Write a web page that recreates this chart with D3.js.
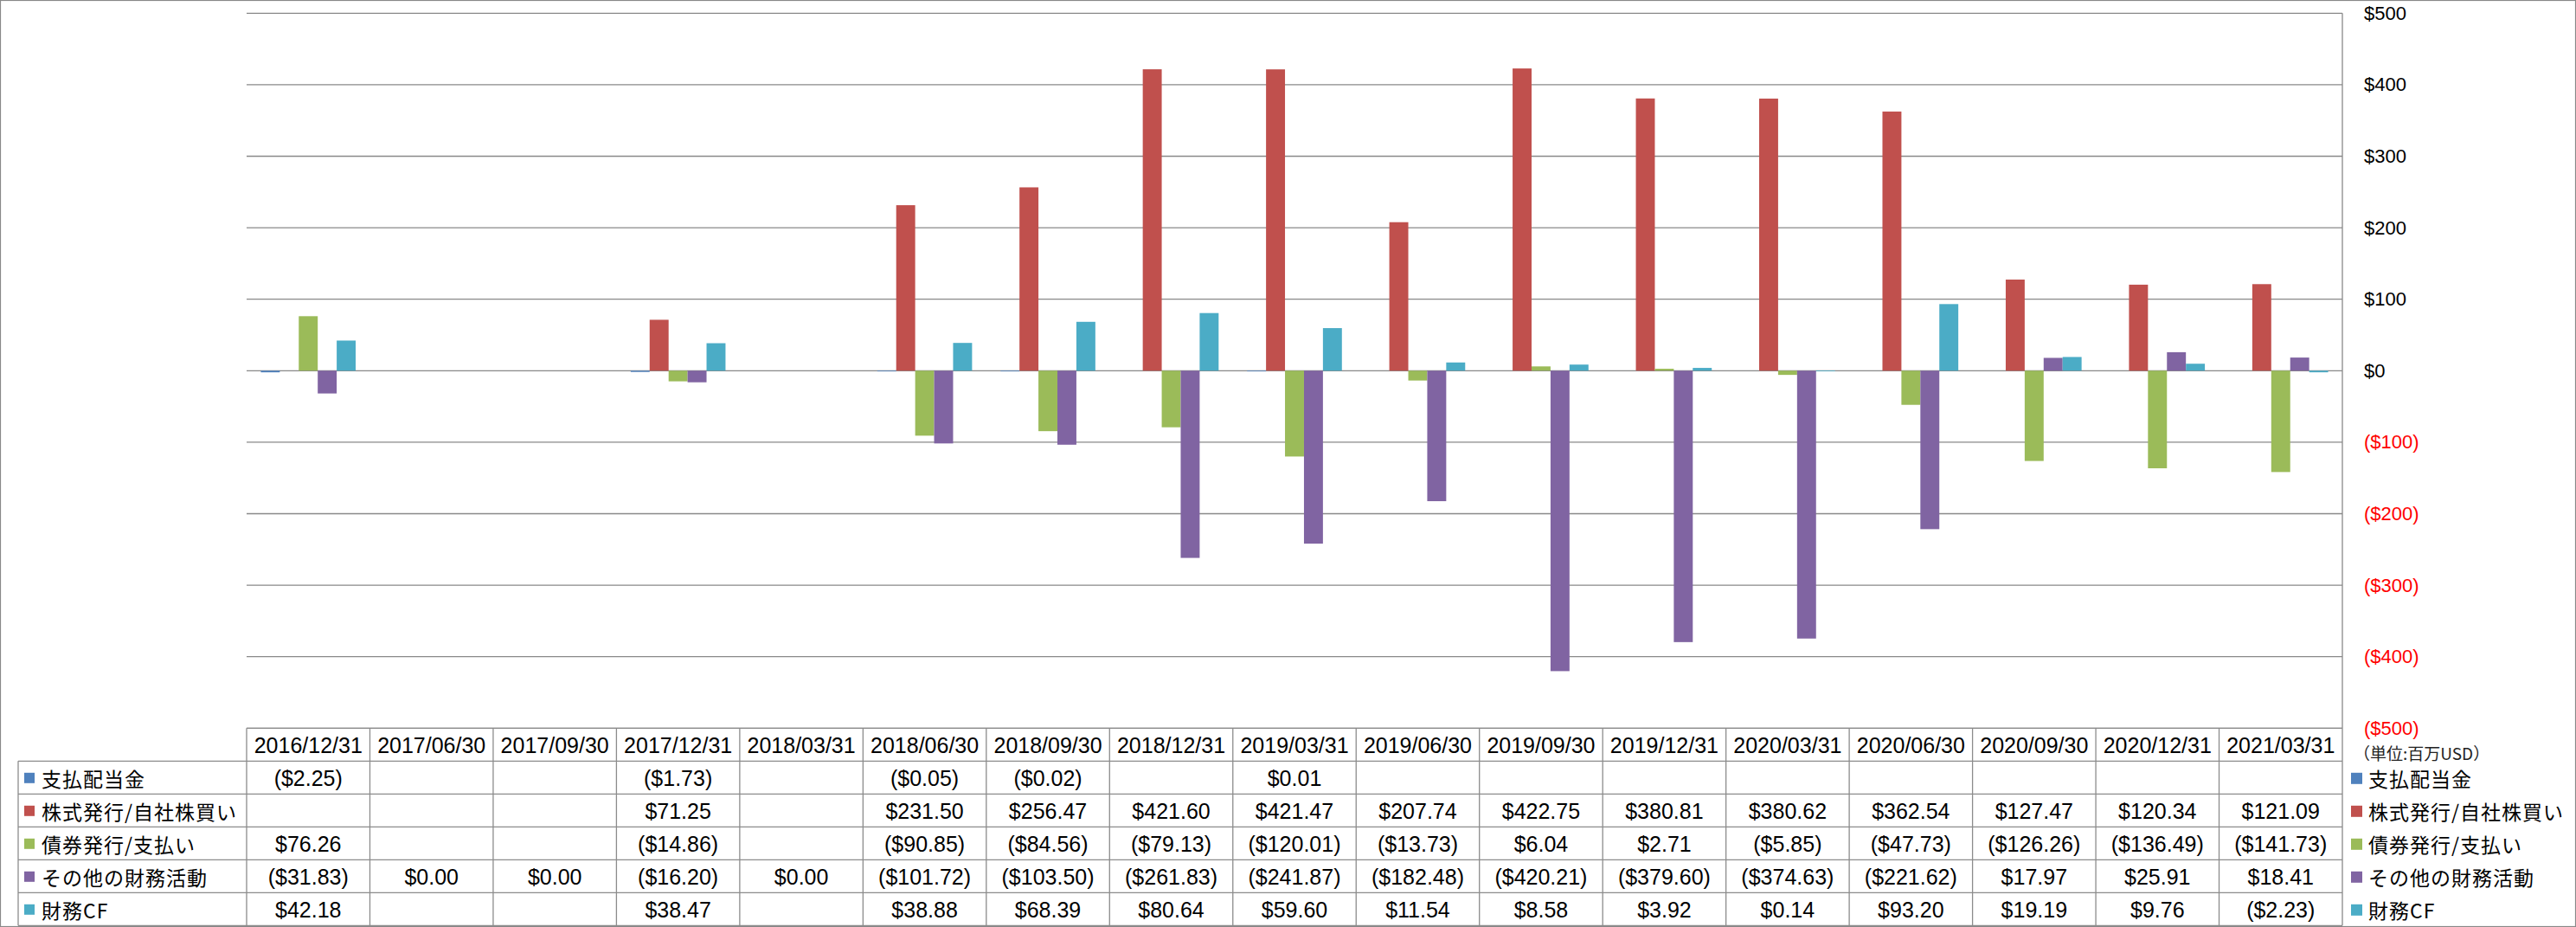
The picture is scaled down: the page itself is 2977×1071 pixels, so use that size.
<!DOCTYPE html>
<html>
<head>
<meta charset="utf-8">
<script src="https://cdn.jsdelivr.net/npm/d3@7/dist/d3.min.js"></script>
<style>
  html, body { margin: 0; padding: 0; background: #fff; }
  svg { display: block; }
</style>
</head>
<body>
<svg id="chart" width="2977" height="1071"></svg>
<script>
// ---------------- DATA ----------------
const categories = ["2016/12/31","2017/06/30","2017/09/30","2017/12/31","2018/03/31","2018/06/30","2018/09/30","2018/12/31","2019/03/31","2019/06/30","2019/09/30","2019/12/31","2020/03/31","2020/06/30","2020/09/30","2020/12/31","2021/03/31"];
const seriesNames = ["支払配当金","株式発行/自社株買い","債券発行/支払い","その他の財務活動","財務CF"];
const seriesColors = ["#4F81BD","#C0504D","#9BBB59","#8064A2","#4BACC6"];
const dividends   = [-2.25, null, null, -1.73, null, -0.05, -0.02, null, 0.01, null, null, null, null, null, null, null, null];
const stockIssue  = [null, null, null, 71.25, null, 231.50, 256.47, 421.60, 421.47, 207.74, 422.75, 380.81, 380.62, 362.54, 127.47, 120.34, 121.09];
const debtIssue   = [76.26, null, null, -14.86, null, -90.85, -84.56, -79.13, -120.01, -13.73, 6.04, 2.71, -5.85, -47.73, -126.26, -136.49, -141.73];
const otherFin    = [-31.83, 0, 0, -16.20, 0, -101.72, -103.50, -261.83, -241.87, -182.48, -420.21, -379.60, -374.63, -221.62, 17.97, 25.91, 18.41];
const financingCF = [42.18, null, null, 38.47, null, 38.88, 68.39, 80.64, 59.60, 11.54, 8.58, 3.92, 0.14, 93.20, 19.19, 9.76, -2.23];
const yTicks = [500, 400, 300, 200, 100, 0, -100, -200, -300, -400, -500];
const unitLabel = "（単位:百万USD）";

const seriesValues = [dividends, stockIssue, debtIssue, otherFin, financingCF];

// ---------------- LAYOUT ----------------
const W = 2977, H = 1071;
const plotLeft = 285, plotRight = 2707;
const yTopPx = 15.3, yBotPx = 841.3;
const tableTop = 841.3, rowH = 38;
const legendLeft = 21;
const gridColor = "#898989";
const tableColor = "#8c8c8c";
const numFont = "'Liberation Sans', Arial, sans-serif";
const cjkFont = "'Noto Sans CJK JP', 'Noto Sans', sans-serif";

const svg = d3.select("#chart");

// outer border
svg.append("rect").attr("x", 0.5).attr("y", 0.5).attr("width", W - 1).attr("height", H - 1)
  .attr("fill", "#fff").attr("stroke", gridColor).attr("stroke-width", 1.2);

const x = d3.scaleBand().domain(categories).range([plotLeft, plotRight]).paddingInner(0).paddingOuter(0);
const xInner = d3.scaleBand().domain(d3.range(seriesNames.length)).range([0, x.bandwidth()]).paddingInner(0).paddingOuter(0.75);
const y = d3.scaleLinear().domain([-500, 500]).range([yBotPx, yTopPx]);

// gridlines
svg.append("g").selectAll("line").data(yTicks).join("line")
  .attr("x1", plotLeft).attr("x2", plotRight)
  .attr("y1", d => y(d)).attr("y2", d => y(d))
  .attr("stroke", gridColor).attr("stroke-width", 1.3);

// bars
const barData = [];
seriesValues.forEach((vals, si) => {
  vals.forEach((v, ci) => {
    if (v !== null && v !== 0) barData.push({ si, ci, v });
  });
});
svg.append("g").selectAll("rect").data(barData).join("rect")
  .attr("x", d => x(categories[d.ci]) + xInner(d.si))
  .attr("width", xInner.bandwidth())
  .attr("y", d => Math.min(y(d.v), y(0)))
  .attr("height", d => Math.max(Math.abs(y(d.v) - y(0)), 0.8))
  .attr("fill", d => seriesColors[d.si]);

// right value axis
const axis = d3.axisRight(y).tickValues(yTicks).tickSize(0).tickPadding(25)
  .tickFormat(d => d < 0 ? `($${-d})` : `$${d}`);
const axG = svg.append("g").attr("transform", `translate(${plotRight},0)`).call(axis);
axG.select(".domain").remove();
axG.selectAll("text")
  .attr("font-family", numFont).attr("font-size", 22)
  .attr("fill", d => d < 0 ? "#FF0000" : "#000");
// axis line (continues as table right border)
svg.append("line").attr("x1", plotRight).attr("x2", plotRight).attr("y1", yTopPx).attr("y2", tableTop + rowH * 6)
  .attr("stroke", gridColor).attr("stroke-width", 1.3);

// unit label
svg.append("text").attr("x", 2720).attr("y", 869).attr("dominant-baseline", "central")
  .attr("font-family", cjkFont).attr("font-size", 19).attr("fill", "#222").text(unitLabel);

// ---------------- DATA TABLE ----------------
const tbl = svg.append("g");
const tableBottom = tableTop + rowH * 6;
// horizontal lines
tbl.append("line").attr("x1", plotLeft).attr("x2", plotRight).attr("y1", tableTop).attr("y2", tableTop)
  .attr("stroke", tableColor).attr("stroke-width", 1.3);
tbl.selectAll("line.h").data(d3.range(1, 7)).join("line").attr("class", "h")
  .attr("x1", legendLeft).attr("x2", plotRight)
  .attr("y1", i => tableTop + i * rowH).attr("y2", i => tableTop + i * rowH)
  .attr("stroke", tableColor).attr("stroke-width", 1.3);
// vertical lines
const colEdges = categories.map(c => x(c));
tbl.selectAll("line.v").data(colEdges).join("line").attr("class", "v")
  .attr("x1", d => d).attr("x2", d => d).attr("y1", tableTop).attr("y2", tableBottom)
  .attr("stroke", tableColor).attr("stroke-width", 1.3);
tbl.append("line").attr("x1", legendLeft).attr("x2", legendLeft).attr("y1", tableTop + rowH).attr("y2", tableBottom)
  .attr("stroke", tableColor).attr("stroke-width", 1.3);

// header dates
tbl.selectAll("text.hdr").data(categories).join("text").attr("class", "hdr")
  .attr("x", d => x(d) + x.bandwidth() / 2).attr("y", tableTop + rowH / 2 + 1)
  .attr("text-anchor", "middle").attr("dominant-baseline", "central")
  .attr("font-family", numFont).attr("font-size", 25).attr("fill", "#000").text(d => d);

const fmt = v => v < 0 ? `($${(-v).toFixed(2)})` : `$${v.toFixed(2)}`;
seriesValues.forEach((vals, si) => {
  const rowY = tableTop + rowH * (si + 1) + rowH / 2 + 1;
  tbl.append("g").selectAll("text").data(vals.map((v, ci) => ({ v, ci })).filter(d => d.v !== null)).join("text")
    .attr("x", d => x(categories[d.ci]) + x.bandwidth() / 2).attr("y", rowY)
    .attr("text-anchor", "middle").attr("dominant-baseline", "central")
    .attr("font-family", numFont).attr("font-size", 25).attr("fill", "#000").text(d => fmt(d.v));
  // left legend key + label
  tbl.append("rect").attr("x", 28).attr("y", rowY - 6.5).attr("width", 12).attr("height", 12).attr("fill", seriesColors[si]);
  tbl.append("text").attr("x", 48).attr("y", rowY).attr("dominant-baseline", "central")
    .attr("font-family", cjkFont).attr("font-size", 23).attr("letter-spacing", 1).attr("fill", "#000").text(seriesNames[si]);
  // right legend
  svg.append("rect").attr("x", 2717).attr("y", rowY - 6.5).attr("width", 13).attr("height", 13).attr("fill", seriesColors[si]);
  svg.append("text").attr("x", 2737).attr("y", rowY).attr("dominant-baseline", "central")
    .attr("font-family", cjkFont).attr("font-size", 23).attr("letter-spacing", 1).attr("fill", "#000").text(seriesNames[si]);
});
</script>
</body>
</html>
